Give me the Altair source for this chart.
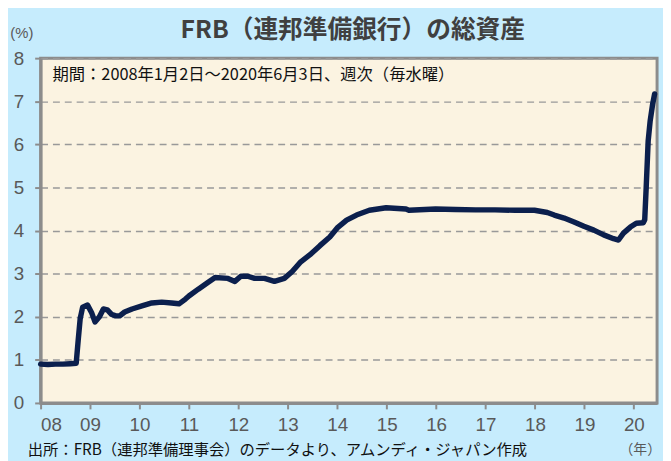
import altair as alt
import pandas as pd

# ---- data ----
years = [2008.00, 2008.15, 2008.30, 2008.45, 2008.60, 2008.72, 2008.76, 2008.80, 2008.85, 2008.95,
         2009.03, 2009.10, 2009.19, 2009.27, 2009.35, 2009.43, 2009.52, 2009.60, 2009.70, 2009.85,
         2010.05, 2010.25, 2010.45, 2010.65, 2010.80, 2010.93, 2011.00, 2011.19, 2011.39, 2011.53,
         2011.79, 2011.93, 2012.05, 2012.19, 2012.33, 2012.53, 2012.73, 2012.93, 2013.09, 2013.25,
         2013.45, 2013.65, 2013.85, 2014.00, 2014.19, 2014.39, 2014.65, 2014.99, 2015.39, 2015.45,
         2015.99, 2016.39, 2016.80, 2017.19, 2017.60, 2017.99, 2018.25, 2018.39, 2018.59, 2018.79,
         2018.99, 2019.19, 2019.39, 2019.59, 2019.69, 2019.79, 2019.93, 2020.05, 2020.19, 2020.22,
         2020.25, 2020.29, 2020.33, 2020.38, 2020.42]
values = [0.90, 0.89, 0.90, 0.90, 0.91, 0.92, 1.45, 1.95, 2.22, 2.27,
          2.10, 1.88, 2.00, 2.18, 2.16, 2.06, 2.02, 2.02, 2.11, 2.18,
          2.25, 2.32, 2.34, 2.32, 2.30, 2.41, 2.48, 2.64, 2.80, 2.91,
          2.89, 2.82, 2.94, 2.94, 2.89, 2.89, 2.82, 2.89, 3.05, 3.26,
          3.44, 3.65, 3.85, 4.06, 4.24, 4.36, 4.47, 4.53, 4.50, 4.47,
          4.50, 4.49, 4.48, 4.48, 4.47, 4.47, 4.42, 4.36, 4.29, 4.20,
          4.10, 4.01, 3.90, 3.81, 3.78, 3.94, 4.08, 4.17, 4.18, 4.25,
          5.00, 6.08, 6.54, 6.93, 7.17]

x_ticks = [2008, 2009, 2010, 2011, 2012, 2013, 2014, 2015, 2016, 2017, 2018, 2019, 2020]
y_ticks = [0, 1, 2, 3, 4, 5, 6, 7, 8]

title_text = "FRB（連邦準備銀行）の総資産"
unit_text = "(%)"
period_text = "期間：2008年1月2日～2020年6月3日、週次（毎水曜）"
source_text = "出所：FRB（連邦準備理事会）のデータより、アムンディ・ジャパン作成"
year_unit_text = "（年）"

df = pd.DataFrame({"year": years, "value": values})

W, H = 624, 349
GREY = "#8c8c8c"
LABEL = "#595959"
NUM_FONT = "Liberation Sans"
JP_FONT = "Noto Sans CJK JP"

x_enc = alt.X("year:Q",
              scale=alt.Scale(domain=[2008, 2020.47], nice=False, zero=False),
              axis=alt.Axis(values=x_ticks, labelExpr="substring(toString(datum.value), 2, 4)",
                            title=None, grid=False, domainColor=GREY, domainWidth=3,
                            tickColor=GREY, tickWidth=2, tickSize=6, labelPadding=7,
                            labelFontSize=19, labelColor=LABEL, labelFont=NUM_FONT))
y_enc = alt.Y("value:Q",
              scale=alt.Scale(domain=[0, 8], nice=False),
              axis=alt.Axis(values=y_ticks, title=None, grid=True, gridColor="#999999",
                            gridDash=[7, 5], gridWidth=1.5, domainColor=GREY, domainWidth=3,
                            tickColor=GREY, tickWidth=2, tickSize=6, labelPadding=11,
                            labelFontSize=19, labelColor=LABEL, labelFont=NUM_FONT))

line = alt.Chart(df).mark_line(color="#0b1f4d", strokeWidth=5.5, strokeJoin="round",
                               strokeCap="round").encode(x=x_enc, y=y_enc)


def label(text, x, y, size, color, align="left", weight="normal", font=JP_FONT):
    return alt.Chart(pd.DataFrame({"t": [text]})).mark_text(
        align=align, baseline="middle", fontSize=size, color=color, fontWeight=weight, font=font
    ).encode(x=alt.value(x), y=alt.value(y), text="t:N")


title = label(title_text, 316, -28, 25, "#404040", align="center", weight="bold")
unit = label(unit_text, -19, -25, 15, LABEL, align="center", font=NUM_FONT)
period = label(period_text, 12, 17, 16.5, "#111111")
source = label(source_text, -13, 397, 15.5, "#111111")
yunit = label(year_unit_text, 628, 397, 14, LABEL, align="right")

chart = alt.layer(line, title, unit, period, source, yunit).properties(
    width=W, height=H,
    padding={"left": 33, "top": 48, "right": 6, "bottom": 56},
    autosize=alt.AutoSizeParams(type="none"),
    background="#c6ecfd",
).configure_view(fill="#fbf3e1", stroke=GREY, strokeWidth=3)

chart.save("out.html", embed_options={"renderer": "svg", "actions": False})
